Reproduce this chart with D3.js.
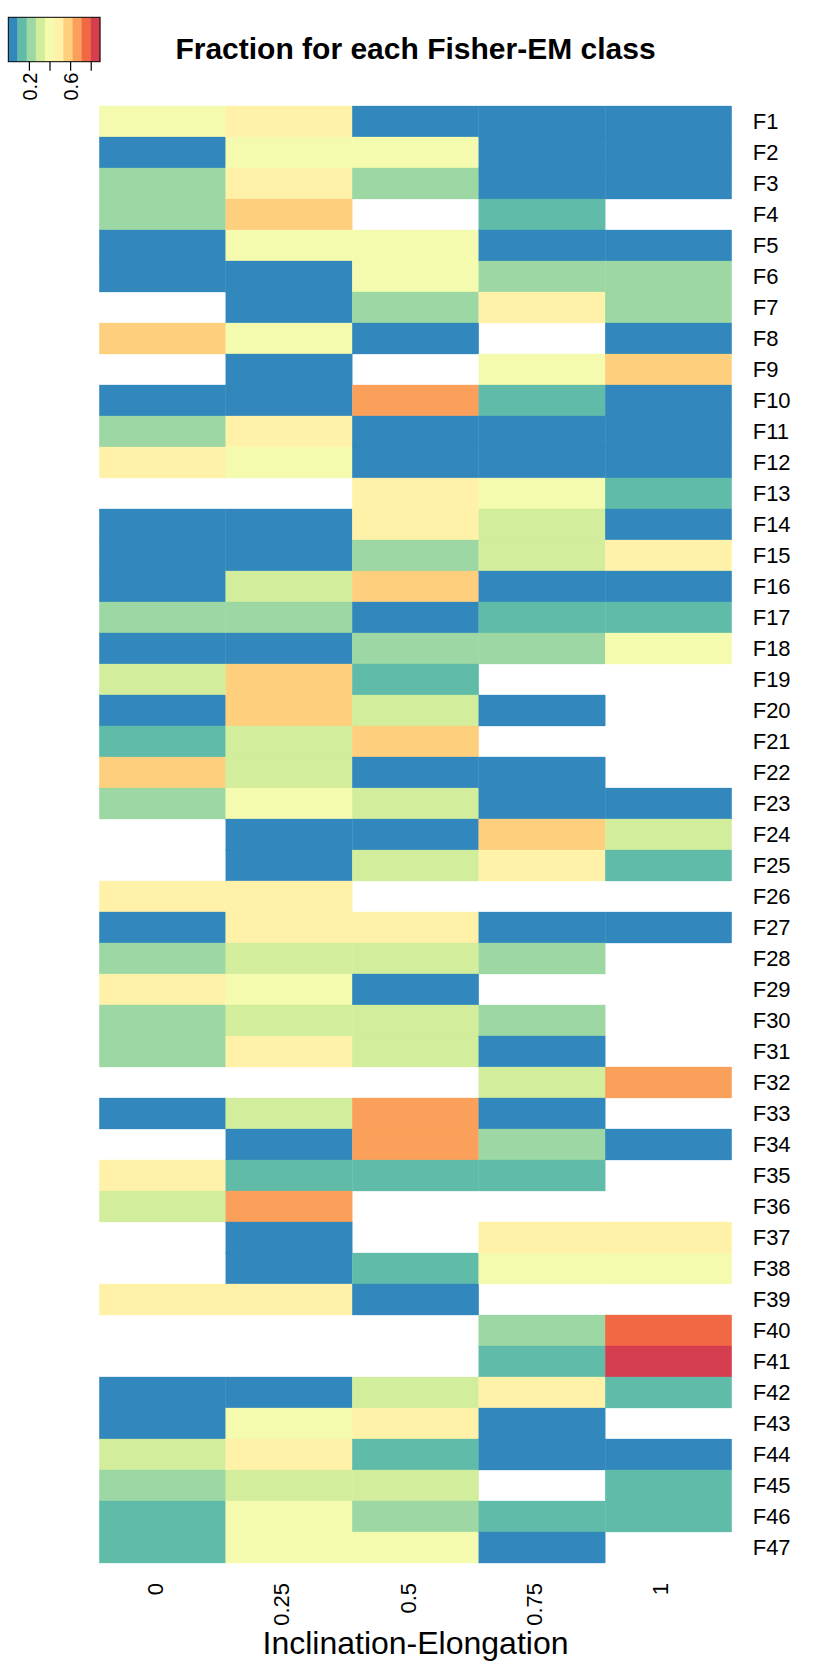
<!DOCTYPE html>
<html>
<head>
<meta charset="utf-8">
<script src="https://cdn.jsdelivr.net/npm/d3@7"></script>
<style>
    body { margin: 0; background: #fff; }
    svg { display: block; font-family: "Liberation Sans", Arial, Helvetica, sans-serif; }
</style>
</head>
<body>
<div id="heatmap"></div>
<script>
// Column categories (Inclination-Elongation) and row categories (Fisher-EM classes)
const colLabels = ["0", "0.25", "0.5", "0.75", "1"];
const rowLabels = d3.range(1, 48).map((i) => "F" + i);

// Fraction per class, one array per column (null = no data, drawn white)
const frac0 = [0.4, 0, 0.2, 0.2, 0, 0, null, 0.6, null, 0, 0.2, 0.5, null, 0, 0, 0,
    0.2, 0, 0.3, 0, 0.12, 0.6, 0.2, null, null, 0.5, 0, 0.2, 0.5, 0.2, 0.2, null,
    0, null, 0.5, 0.3, null, null, 0.5, null, null, 0, 0, 0.3, 0.2, 0.12, 0.12];
const frac025 = [0.5, 0.4, 0.5, 0.6, 0.4, 0, 0, 0.4, 0, 0, 0.5, 0.4, null, 0, 0, 0.3,
    0.2, 0, 0.6, 0.6, 0.3, 0.3, 0.4, 0, 0, 0.5, 0.5, 0.3, 0.4, 0.3, 0.5, null,
    0.3, 0, 0.12, 0.67, 0, 0, 0.5, null, null, 0, 0.4, 0.5, 0.3, 0.4, 0.4];
const frac05 = [0, 0.4, 0.2, null, 0.4, 0.4, 0.2, 0, null, 0.67, 0, 0, 0.5, 0.5, 0.2, 0.6,
    0, 0.2, 0.12, 0.3, 0.6, 0, 0.3, 0, 0.3, null, 0.5, 0.3, 0, 0.3, 0.3, null,
    0.67, 0.67, 0.12, null, null, 0.12, 0, null, null, 0.3, 0.5, 0.12, 0.3, 0.2, 0.4];
const frac075 = [0, 0, 0, 0.12, 0, 0.2, 0.5, null, 0.4, 0.12, 0, 0, 0.4, 0.3, 0.3, 0,
    0.12, 0.2, null, 0, null, 0, 0, 0.6, 0.5, null, 0, 0.2, null, 0.2, 0, 0.3,
    0, 0.2, 0.12, null, 0.5, 0.4, null, 0.2, 0.12, 0.5, 0, 0, null, 0.12, 0];
const frac1 = [0, 0, 0, null, 0, 0.2, 0.2, 0, 0.6, 0, 0, 0, 0.12, 0, 0.5, 0,
    0.12, 0.4, null, null, null, null, 0, 0.3, 0.12, null, 0, null, null, null, null, 0.67,
    null, 0, null, null, 0.5, 0.4, null, 0.75, 0.89, 0.12, null, 0, 0.12, 0.12, null];

// Legend ticks
const legendTicks = [0.2, 0.4, 0.6, 0.8];
const legendTickLabels = ["0.2", "", "0.6", ""];

const columns = [frac0, frac025, frac05, frac075, frac1];

const title = "Fraction for each Fisher-EM class";
const xTitle = "Inclination-Elongation";

const W = 830, H = 1661;
const plot = { left: 99.3, right: 731.7, top: 106, bottom: 1563 };

// Flatten to cells
const cells = [];
columns.forEach((vals, ci) => {
    vals.forEach((v, ri) => {
        cells.push({ col: colLabels[ci], row: rowLabels[ri], value: v });
    });
});

// 10 colours ramped from the Spectral palette (blue -> red)
const spectral = ["#3288BD", "#66C2A5", "#ABDDA4", "#E6F598", "#FFFFBF",
    "#FEE08B", "#FDAE61", "#F46D43", "#D53E4F"];
const ramp = d3.piecewise(d3.interpolateRgb, spectral);
const nColors = 10;
const palette = d3.range(nColors).map((i) => ramp(i / (nColors - 1)));

const vmax = d3.max(cells, (d) => d.value);
const color = d3.scaleQuantize().domain([0, vmax]).range(palette);

const svg = d3
    .select("#heatmap")
    .append("svg")
    .attr("width", W)
    .attr("height", H);

// Scales
const x = d3.scaleBand().domain(colLabels).range([plot.left, plot.right]).padding(0);
const y = d3.scaleBand().domain(rowLabels).range([plot.top, plot.bottom]).padding(0);

// Cells
svg.append("g")
    .selectAll("rect")
    .data(cells.filter((d) => d.value !== null))
    .enter()
    .append("rect")
    .attr("x", (d) => x(d.col))
    .attr("y", (d) => y(d.row))
    .attr("width", x.bandwidth())
    .attr("height", y.bandwidth())
    .attr("fill", (d) => color(d.value))
    .attr("stroke", (d) => color(d.value))
    .attr("stroke-width", 0.3);

// Row labels on the right
const yAxis = svg.append("g")
    .attr("transform", `translate(${plot.right},0)`)
    .call(d3.axisRight(y).tickSize(0).tickPadding(21));
yAxis.select(".domain").remove();
yAxis.selectAll("text")
    .attr("font-size", 22)
    .attr("font-family", "Liberation Sans, Arial, sans-serif")
    .attr("fill", "#000")
    .attr("dy", "0.36em");

// Column labels, rotated
const xAxis = svg.append("g")
    .attr("transform", `translate(0,${plot.bottom})`)
    .call(d3.axisBottom(x).tickSize(0));
xAxis.select(".domain").remove();
xAxis.selectAll("text")
    .attr("font-size", 22)
    .attr("font-family", "Liberation Sans, Arial, sans-serif")
    .attr("fill", "#000")
    .attr("transform", "rotate(-90)")
    .attr("x", -20)
    .attr("y", 0)
    .attr("dy", "0")
    .attr("text-anchor", "end");

// Axis title
svg.append("text")
    .attr("x", (plot.left + plot.right) / 2)
    .attr("y", 1654)
    .attr("text-anchor", "middle")
    .attr("font-size", 32)
    .text(xTitle);

// Main title
svg.append("text")
    .attr("x", (plot.left + plot.right) / 2)
    .attr("y", 59)
    .attr("text-anchor", "middle")
    .attr("font-size", 30)
    .attr("font-weight", "bold")
    .text(title);

// Colour key
const key = { left: 8.3, right: 100, top: 17.3, bottom: 61.7 };
const kx = d3.scaleLinear().domain([0, vmax]).range([key.left, key.right]);
const bins = palette.map((c, i) => ({ c, x0: (i * vmax) / nColors, x1: ((i + 1) * vmax) / nColors }));

svg.append("g")
    .selectAll("rect")
    .data(bins)
    .enter()
    .append("rect")
    .attr("x", (d) => kx(d.x0))
    .attr("y", key.top)
    .attr("width", (d) => kx(d.x1) - kx(d.x0) + 0.3)
    .attr("height", key.bottom - key.top)
    .attr("fill", (d) => d.c);

svg.append("rect")
    .attr("x", key.left)
    .attr("y", key.top)
    .attr("width", key.right - key.left)
    .attr("height", key.bottom - key.top)
    .attr("fill", "none")
    .attr("stroke", "#000")
    .attr("stroke-width", 1);

const keyAxis = svg.append("g")
    .attr("transform", `translate(0,${key.bottom})`)
    .call(
        d3.axisBottom(kx)
            .tickValues(legendTicks)
            .tickSize(9)
            .tickFormat((d, i) => legendTickLabels[i])
    );
keyAxis.select(".domain").remove();
keyAxis.selectAll("line").attr("stroke", "#000").attr("stroke-width", 1.2);
keyAxis.selectAll("text")
    .attr("font-size", 20)
    .attr("font-family", "Liberation Sans, Arial, sans-serif")
    .attr("fill", "#000")
    .attr("transform", "rotate(-90)")
    .attr("x", -11)
    .attr("y", 0)
    .attr("dy", "0.36em")
    .attr("text-anchor", "end");
</script>
</body>
</html>
